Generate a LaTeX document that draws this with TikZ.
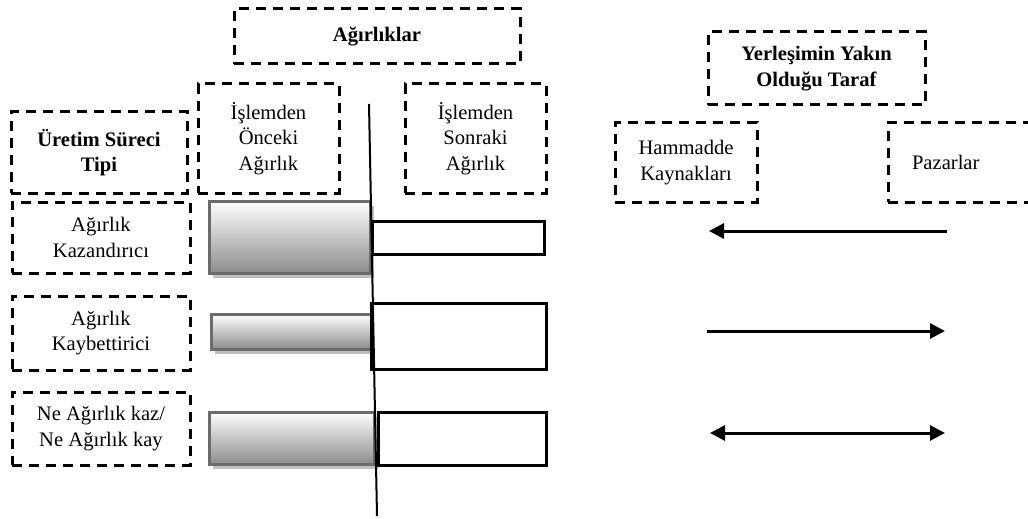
\documentclass[tikz,border=0pt]{standalone}
\usepackage{fontspec}
\setmainfont{Liberation Serif}
\usepackage{tikz}
\usetikzlibrary{arrows.meta,shadows}

\begin{document}
\begin{tikzpicture}[x=0.5pt, y=-0.5pt, >={Triangle[length=7.5pt,width=7.5pt]},
   font=\fontsize{10.3}{12.8}\selectfont,
   dbox/.style={draw, line width=1.5pt, dash pattern=on 5pt off 3.5pt, inner sep=2pt, align=center},
   gbar/.style={draw=black!58, line width=1.5pt, top color=white, bottom color=black!45,
                drop shadow={fill=black!25, opacity=1, shadow xshift=2pt, shadow yshift=-2.5pt}},
   wbar/.style={draw, line width=1.5pt, fill=white},
   arr/.style={line width=1.5pt}]
\useasboundingbox (0,0) rectangle (1028,519);
% headings
\node[dbox, minimum width=143pt, minimum height=27.5pt] (agir) at (377,36.5) {\textbf{Ağırlıklar}};
\node[dbox, minimum width=88pt, minimum height=40.5pt] (tip) at (99,152.5) {\textbf{Üretim Süreci}\\\textbf{Tipi}};
\node[dbox, minimum width=70.5pt, minimum height=54.5pt] (once) at (268.5,138.5) {İşlemden\\Önceki\\Ağırlık};
\node[dbox, minimum width=70.5pt, minimum height=54.5pt] (sonra) at (475.5,138.5) {İşlemden\\Sonraki\\Ağırlık};
\node[dbox, minimum width=108.5pt, minimum height=36.5pt] (yer) at (816.5,68.5) {\textbf{Yerleşimin Yakın}\\\textbf{Olduğu Taraf}};
\node[dbox, minimum width=71pt, minimum height=39.5pt] (ham) at (686,162.5) {Hammadde\\Kaynakları};
\node[dbox, minimum height=39.5pt, text width=52pt, inner xsep=12pt, align=left] (paz) at (964,162.5) {Pazarlar};
% process types
\node[dbox, minimum width=89pt, minimum height=35.5pt] (kaz) at (101,237.5) {Ağırlık\\Kazandırıcı};
\node[dbox, minimum width=89pt, minimum height=37pt] (kay) at (101,333) {Ağırlık\\Kaybettirici};
\node[dbox, minimum width=89pt, minimum height=36.5pt] (ne) at (101,428.5) {Ne Ağırlık kaz/\\Ne Ağırlık kay};
% bars
\node[gbar, minimum width=80.5pt, minimum height=36pt] (g1) at (289.5,237) {};
\node[gbar, minimum width=80.5pt, minimum height=17.5pt] (g2) at (291.5,331.5) {};
\node[gbar, minimum width=82.5pt, minimum height=26pt] (g3) at (291.5,438) {};
\node[wbar, minimum width=86pt, minimum height=16.5pt] (w1) at (458,237.5) {};
\node[wbar, minimum width=87.5pt, minimum height=33pt] (w2) at (458.5,336) {};
\node[wbar, minimum width=84pt, minimum height=26.5pt] (w3) at (462,438.5) {};
% divider
\coordinate (lt) at (369,104);
\coordinate (lb) at (377,516);
\draw[line width=1pt] (lt) -- (lb);
% directions
\coordinate (a1s) at (947,231); \coordinate (a1e) at (709,231);
\coordinate (a2s) at (707,331); \coordinate (a2e) at (945,331);
\coordinate (a3s) at (710,433); \coordinate (a3e) at (945,433);
\draw[arr, ->] (a1s) -- (a1e);
\draw[arr, ->] (a2s) -- (a2e);
\draw[arr, <->] (a3s) -- (a3e);
\end{tikzpicture}
\end{document}
